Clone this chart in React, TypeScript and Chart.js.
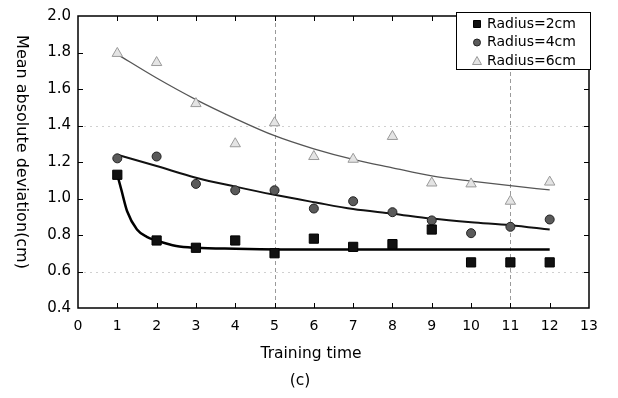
import React, { useEffect, useRef } from "react";
import { Chart, registerables } from "chart.js";

Chart.register(...registerables);

const trainingTimes = [1, 2, 3, 4, 5, 6, 7, 8, 9, 10, 11, 12];
const radius2 = [1.13, 0.77, 0.73, 0.77, 0.70, 0.78, 0.735, 0.75, 0.83, 0.65, 0.65, 0.65];
const radius4 = [1.22, 1.23, 1.08, 1.045, 1.045, 0.945, 0.985, 0.925, 0.88, 0.81, 0.845, 0.885];
const radius6 = [1.795, 1.745, 1.52, 1.30, 1.415, 1.23, 1.215, 1.34, 1.085, 1.08, 0.985, 1.09];

const fit2X = [1, 1.1, 1.25, 1.5, 1.75, 2, 2.5, 3, 4, 6, 8, 10, 12];
const fit2Y = [1.13, 1.05, 0.93, 0.83, 0.79, 0.77, 0.74, 0.73, 0.725, 0.72, 0.72, 0.72, 0.72];
const fit4Y = [1.24, 1.178, 1.114, 1.065, 1.02, 0.98, 0.942, 0.917, 0.89, 0.87, 0.854, 0.83];
const fit6Y = [1.79, 1.66, 1.542, 1.438, 1.344, 1.272, 1.214, 1.168, 1.124, 1.095, 1.07, 1.047];

const seriesLabels = ["Radius=2cm", "Radius=4cm", "Radius=6cm"];
const xTicks = [0, 1, 2, 3, 4, 5, 6, 7, 8, 9, 10, 11, 12, 13];
const yTicks = [0.4, 0.6, 0.8, 1.0, 1.2, 1.4, 1.6, 1.8, 2.0];
const dashedX = [5, 11];
const dottedY = [1.4, 0.6];

const FONT = "'DejaVu Sans', sans-serif";

const pts = (xs: number[], ys: number[]) => xs.map((x, i) => ({ x, y: ys[i] }));

const decorPlugin = {
  id: "decor",
  beforeDatasetsDraw(chart: any) {
    const { ctx, chartArea: a, scales } = chart;
    const xs = scales.x, ys = scales.y;
    ctx.save();
    ctx.strokeStyle = "#9a9a9a";
    ctx.lineWidth = 1;
    ctx.setLineDash([4, 3]);
    dashedX.forEach((v) => {
      const px = Math.round(xs.getPixelForValue(v)) + 0.5;
      ctx.beginPath();
      ctx.moveTo(px, a.top);
      ctx.lineTo(px, a.bottom);
      ctx.stroke();
    });
    ctx.strokeStyle = "#d0d0d0";
    ctx.setLineDash([2, 4]);
    dottedY.forEach((v) => {
      const py = Math.round(ys.getPixelForValue(v)) + 0.5;
      ctx.beginPath();
      ctx.moveTo(a.left, py);
      ctx.lineTo(a.right, py);
      ctx.stroke();
    });
    ctx.restore();
  },
  afterDraw(chart: any) {
    const { ctx, chartArea: a, scales } = chart;
    const xs = scales.x, ys = scales.y;
    ctx.save();
    ctx.strokeStyle = "#000";
    ctx.lineWidth = 1.5;
    ctx.strokeRect(a.left, a.top, a.right - a.left, a.bottom - a.top);
    ctx.lineWidth = 1;
    const tl = 5;
    xTicks.slice(1, -1).forEach((v) => {
      const px = Math.round(xs.getPixelForValue(v)) + 0.5;
      ctx.beginPath();
      ctx.moveTo(px, a.bottom);
      ctx.lineTo(px, a.bottom - tl);
      ctx.moveTo(px, a.top);
      ctx.lineTo(px, a.top + tl);
      ctx.stroke();
    });
    yTicks.slice(1, -1).forEach((v) => {
      const py = Math.round(ys.getPixelForValue(v)) + 0.5;
      ctx.beginPath();
      ctx.moveTo(a.left, py);
      ctx.lineTo(a.left + tl, py);
      ctx.moveTo(a.right, py);
      ctx.lineTo(a.right - tl, py);
      ctx.stroke();
    });
    const bx = 456, by = 12, bw = 134, bh = 57;
    ctx.fillStyle = "#fff";
    ctx.fillRect(bx, by, bw, bh);
    ctx.lineWidth = 1;
    ctx.strokeStyle = "#000";
    ctx.strokeRect(bx + 0.5, by + 0.5, bw, bh);
    const rows = [24, 42.5, 61];
    ctx.font = `14px ${FONT}`;
    ctx.textBaseline = "middle";
    ctx.textAlign = "left";
    chart.data.datasets.slice(0, 3).forEach((ds: any, i: number) => {
      const mx = 477, my = rows[i];
      ctx.fillStyle = ds.backgroundColor;
      ctx.strokeStyle = ds.borderColor;
      ctx.lineWidth = 1;
      ctx.beginPath();
      if (i === 0) {
        ctx.rect(mx - 3.5, my - 3.5, 7, 7);
      } else if (i === 1) {
        ctx.arc(mx, my, 3.5, 0, Math.PI * 2);
      } else {
        ctx.moveTo(mx, my - 4.5);
        ctx.lineTo(mx + 4.5, my + 3.5);
        ctx.lineTo(mx - 4.5, my + 3.5);
        ctx.closePath();
      }
      ctx.fill();
      ctx.stroke();
      ctx.fillStyle = "#000";
      ctx.fillText(ds.label, 487, my);
    });
    ctx.fillStyle = "#000";
    ctx.textAlign = "center";
    ctx.textBaseline = "middle";
    ctx.font = `15.5px ${FONT}`;
    ctx.fillText("Training time", 311, 354);
    ctx.fillText("(c)", 300, 381);
    ctx.save();
    ctx.font = `16px ${FONT}`;
    ctx.translate(21, 152);
    ctx.rotate(Math.PI / 2);
    ctx.fillText("Mean absolute deviation(cm)", 0, 0);
    ctx.restore();
    ctx.restore();
  },
};

export default function App() {
  const ref = useRef<HTMLCanvasElement>(null);
  useEffect(() => {
    document.body.style.margin = "0";
    const chart = new Chart(ref.current!, {
      type: "scatter",
      data: {
        datasets: [
          {
            label: seriesLabels[0],
            data: pts(trainingTimes, radius2),
            pointStyle: "rect",
            pointRadius: 6.5,
            backgroundColor: "#111",
            borderColor: "#000",
            borderWidth: 1,
          },
          {
            label: seriesLabels[1],
            data: pts(trainingTimes, radius4),
            pointStyle: "circle",
            pointRadius: 4.5,
            backgroundColor: "#5a5a5a",
            borderColor: "#222",
            borderWidth: 1,
          },
          {
            label: seriesLabels[2],
            data: pts(trainingTimes, radius6),
            pointStyle: "triangle",
            pointRadius: 6,
            backgroundColor: "#e4e4e4",
            borderColor: "#9a9a9a",
            borderWidth: 1,
          },
          {
            type: "line",
            label: "fit2",
            data: pts(fit2X, fit2Y),
            borderColor: "#000",
            borderWidth: 2.5,
            pointRadius: 0,
            showLine: true,
            cubicInterpolationMode: "monotone",
          } as any,
          {
            type: "line",
            label: "fit4",
            data: pts(trainingTimes, fit4Y),
            borderColor: "#111",
            borderWidth: 2,
            pointRadius: 0,
            showLine: true,
            cubicInterpolationMode: "monotone",
          } as any,
          {
            type: "line",
            label: "fit6",
            data: pts(trainingTimes, fit6Y),
            borderColor: "#555",
            borderWidth: 1.3,
            pointRadius: 0,
            showLine: true,
            cubicInterpolationMode: "monotone",
          } as any,
        ],
      },
      options: {
        responsive: false,
        animation: false,
        layout: { padding: { top: 12, right: 29, left: 0, bottom: 0 } },
        plugins: { legend: { display: false }, tooltip: { enabled: false } },
        scales: {
          x: {
            type: "linear",
            min: 0,
            max: 13,
            afterBuildTicks: (s: any) => {
              s.ticks = xTicks.map((v) => ({ value: v }));
            },
            afterFit: (s: any) => {
              s.height = 90;
            },
            grid: { display: false, drawTicks: false },
            border: { display: false },
            ticks: { color: "#000", font: { family: FONT, size: 14 }, padding: 10, maxRotation: 0 },
          },
          y: {
            type: "linear",
            min: 0.4,
            max: 2.0,
            afterBuildTicks: (s: any) => {
              s.ticks = yTicks.map((v) => ({ value: v }));
            },
            afterFit: (s: any) => {
              s.width = 78;
            },
            grid: { display: false, drawTicks: false },
            border: { display: false },
            ticks: {
              color: "#000",
              font: { family: FONT, size: 15 },
              padding: 7,
              callback: (v: any) => Number(v).toFixed(1),
            },
          },
        },
      },
      plugins: [decorPlugin],
    });
    return () => chart.destroy();
  }, []);
  return (
    <div style={{ position: "absolute", left: 0, top: 0, width: 618, height: 398, background: "#fff" }}>
      <canvas ref={ref} width={618} height={398} style={{ width: 618, height: 398 }} />
    </div>
  );
}
